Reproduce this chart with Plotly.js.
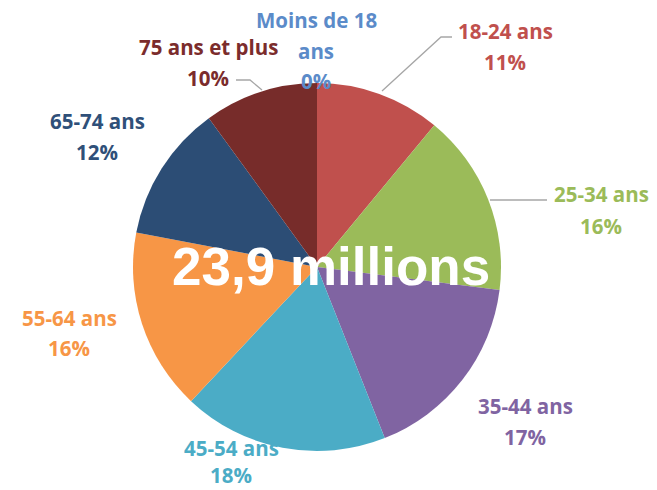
<!DOCTYPE html>
<html>
<head>
<meta charset="utf-8">
<script src="https://cdn.plot.ly/plotly-3.0.1.min.js"></script>
<style>html,body{margin:0;padding:0;background:#fff;}#chart{width:657px;height:490px;}</style>
</head>
<body>
<div id="chart"></div>
<script>
const categories = ["Moins de 18 ans", "18-24 ans", "25-34 ans", "35-44 ans", "45-54 ans", "55-64 ans", "65-74 ans", "75 ans et plus"];
const shares = [0, 11, 16, 17, 18, 16, 12, 10];
const sliceColors = ["#4F81BD", "#C0504D", "#9BBB59", "#8064A2", "#4BACC6", "#F79646", "#2C4D75", "#772C2A"];
const labelColors = ["#5B8BC9", "#C0504D", "#9BBB59", "#8064A2", "#4BACC6", "#F79646", "#2F5079", "#7B2C2C"];
const centerText = "23,9 millions";

const W = 657, H = 490;
const px = x => x / W;
const py = y => 1 - y / H;

// label line placement (pixel centres) : [first line(s), percent line]
const labelPos = [
  {lines: ["Moins de 18", "ans"], x: 316, y: [20, 51], py: 81},
  {lines: ["18-24 ans"], x: 505, y: [31], py: 62},
  {lines: ["25-34 ans"], x: 601, y: [194], py: 226},
  {lines: ["35-44 ans"], x: 525, y: [406], py: 437},
  {lines: ["45-54 ans"], x: 231, y: [448], py: 475},
  {lines: ["55-64 ans"], x: 69, y: [318], py: 348},
  {lines: ["65-74 ans"], x: 97, y: [121], py: 152},
  {lines: ["75 ans et plus"], x: 208, y: [47], py: 78}
];

const total = shares.reduce((a, b) => a + b, 0);
const font = "'Open Sans', 'DejaVu Sans', sans-serif";
const annotations = [];
labelPos.forEach((p, i) => {
  p.lines.forEach((t, j) => {
    annotations.push({text: "<b>" + t + "</b>", x: px(p.x), y: py(p.y[j]), xref: "paper", yref: "paper",
      showarrow: false, xanchor: "center", yanchor: "middle", font: {family: font, size: 20.5, color: labelColors[i]}});
  });
  const pct = Math.round(shares[i] / total * 100) + "%";
  annotations.push({text: "<b>" + pct + "</b>", x: px(p.x), y: py(p.py), xref: "paper", yref: "paper",
    showarrow: false, xanchor: "center", yanchor: "middle", font: {family: font, size: 20.5, color: labelColors[i]}});
});
annotations.push({text: "<b>" + centerText + "</b>", x: px(331), y: py(266), xref: "paper", yref: "paper",
  showarrow: false, xanchor: "center", yanchor: "middle",
  font: {family: "'Liberation Sans', Arial, sans-serif", size: 53, color: "#FFFFFF"}});

const lineStyle = {color: "#A6A6A6", width: 1.3};
const shapes = [
  {type: "path", xref: "paper", yref: "paper", path: `M ${px(382)} ${py(91)} L ${px(441)} ${py(37)} L ${px(452)} ${py(37)}`, line: lineStyle},
  {type: "path", xref: "paper", yref: "paper", path: `M ${px(490)} ${py(200)} L ${px(547)} ${py(200)}`, line: lineStyle},
  {type: "path", xref: "paper", yref: "paper", path: `M ${px(236)} ${py(80)} L ${px(250)} ${py(80)} L ${px(262)} ${py(90)}`, line: lineStyle}
];

const trace = {
  type: "pie",
  labels: categories,
  values: shares,
  sort: false,
  direction: "clockwise",
  rotation: 0,
  textinfo: "none",
  hoverinfo: "label+percent",
  marker: {colors: sliceColors, line: {width: 0}},
  domain: {x: [px(133), px(501)], y: [py(451), py(83)]},
  showlegend: false
};

Plotly.newPlot("chart", [trace], {
  width: W, height: H,
  margin: {l: 0, r: 0, t: 0, b: 0},
  paper_bgcolor: "#FFFFFF",
  showlegend: false,
  annotations: annotations,
  shapes: shapes
}, {displayModeBar: false, staticPlot: true});
</script>
</body>
</html>
